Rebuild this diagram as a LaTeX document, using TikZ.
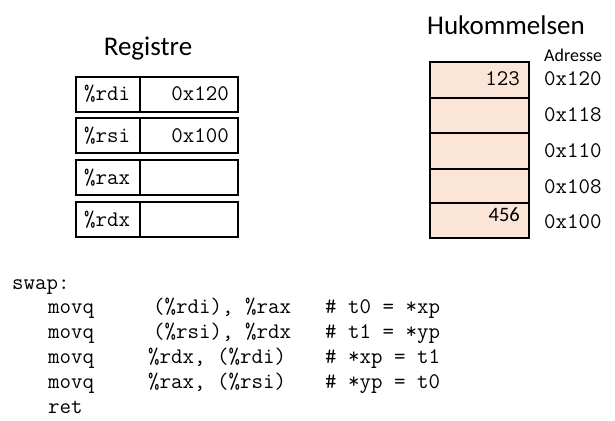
\documentclass[tikz,border=0pt]{standalone}
\usepackage{fontspec}
\setmainfont{Carlito}
\setmonofont{Latin Modern Mono}
\usepackage{tikz}

\definecolor{memfill}{RGB}{251,229,214}
\tikzset{
  regbox/.style={draw, line width=2.4pt},
  memline/.style={draw, line width=2pt},
  code/.style={font=\ttfamily\fontsize{22.3}{24}\selectfont, inner sep=0pt, anchor=base west},
  rcode/.style={code, anchor=base east},
  title/.style={font=\fontsize{27}{29}\selectfont, inner sep=0pt, anchor=base},
}

\begin{document}
\begin{tikzpicture}[x=1pt,y=-1pt]
    \useasboundingbox (0,0) rectangle (615,420);

    % Registers
    \node[title] (regtitle) at (148,56) {Registre};
    \draw[regbox] (76,77) rectangle (238,112);
    \draw[regbox] (140,77) -- (140,112);
    \draw[regbox] (76,118) rectangle (238,153);
    \draw[regbox] (140,118) -- (140,153);
    \draw[regbox] (76,160) rectangle (238,195);
    \draw[regbox] (140,160) -- (140,195);
    \draw[regbox] (76,202) rectangle (238,237);
    \draw[regbox] (140,202) -- (140,237);
    \node[code] (rdi) at (84,100) {\%rdi};
    \node[code] (rsi) at (84,142) {\%rsi};
    \node[code] (rax) at (84,184) {\%rax};
    \node[code] (rdx) at (84,226) {\%rdx};
    \node[rcode] (rdival) at (229,100) {0x120};
    \node[rcode] (rsival) at (229,142) {0x100};

    % Memory
    \node[title] (memtitle) at (506,35) {Hukommelsen};
    \node[font=\fontsize{18}{19}\selectfont, inner sep=0pt, anchor=base west] (adr) at (544,62) {Adresse};
    \fill[memfill] (430,62) rectangle (529,238);
    \foreach \y in {98,133,169,203}
        \draw[memline] (430,\y) -- (529,\y);
    \draw[memline] (430,62) rectangle (529,238);
    \node[rcode] (val123) at (520,85) {123};
    \node[font=\fontsize{20.5}{22}\selectfont, inner sep=0pt, anchor=base east] (val456) at (520,221) {456};
    \node[code] (a120) at (544,85) {0x120};
    \node[code] (a118) at (544,121) {0x118};
    \node[code] (a110) at (544,157) {0x110};
    \node[code] (a108) at (544,193) {0x108};
    \node[code] (a100) at (544,228) {0x100};

    % Assembly code
    \node[code] (lbl) at (12,289) {swap:};
    \node[code] (op1) at (48,313) {movq};
    \node[code] (arg1) at (153,313) {(\%rdi), \%rax};
    \node[code] (cm1) at (325,313) {\# t0 = *xp};
    \node[code] (op2) at (48,338) {movq};
    \node[code] (arg2) at (153,338) {(\%rsi), \%rdx};
    \node[code] (cm2) at (325,338) {\# t1 = *yp};
    \node[code] (op3) at (48,363) {movq};
    \node[code] (arg3) at (148,363) {\%rdx, (\%rdi)};
    \node[code] (cm3) at (325,363) {\# *xp = t1};
    \node[code] (op4) at (48,388) {movq};
    \node[code] (arg4) at (148,388) {\%rax, (\%rsi)};
    \node[code] (cm4) at (325,388) {\# *yp = t0};
    \node[code] (op5) at (48,413) {ret};

\end{tikzpicture}
\end{document}
